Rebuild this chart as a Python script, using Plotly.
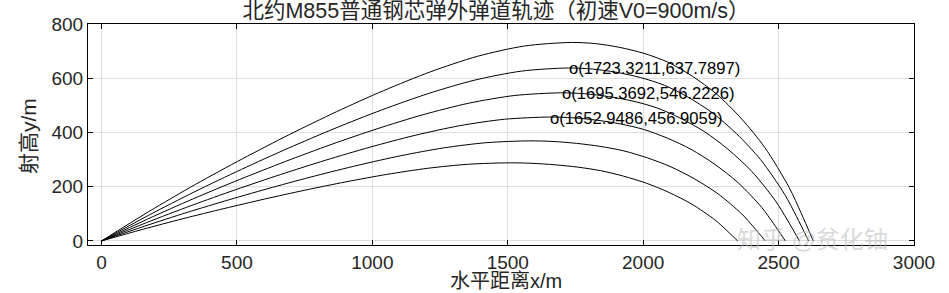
import plotly.graph_objects as go

# ---- data (horizontal distance x [m], height y [m]) ----
x1 = [0, 173.5, 347, 520.5, 694, 867.5, 1041, 1214.5, 1388, 1561.5, 1735,
      1824.3, 1913.6, 2002.9, 2092.2, 2181.5, 2270.8, 2360.1, 2449.4, 2538.7, 2583.4, 2628]
y1 = [0, 107.6, 208.6, 303.0, 392.4, 476.5, 554.1, 623.7, 680.8, 718.8, 732,
      727.6, 713.7, 691.7, 658.8, 607.6, 541.7, 453.8, 344.0, 197.6, 102.5, 0]

x2 = [0, 172.3, 344.7, 517.0, 689.3, 861.7, 1034.0, 1206.3, 1378.6, 1551.0, 1723.3,
      1812.1, 1900.8, 1989.6, 2078.4, 2167.2, 2255.9, 2344.7, 2433.5, 2522.2, 2566.6, 2611]
y2 = [0, 93.8, 181.8, 264.0, 341.9, 415.2, 482.8, 543.4, 593.2, 626.3, 637.8,
      634.0, 621.9, 602.7, 574.0, 529.4, 472.0, 395.4, 299.8, 172.2, 89.3, 0]

x3 = [0, 169.5, 339.1, 508.6, 678.2, 847.7, 1017.2, 1186.8, 1356.3, 1525.9, 1695.4,
      1783.6, 1871.7, 1959.9, 2048.0, 2136.2, 2224.4, 2312.5, 2400.7, 2488.8, 2532.9, 2577]
y3 = [0, 80.3, 155.7, 226.1, 292.8, 355.6, 413.5, 465.4, 508.0, 536.4, 546.2,
      542.9, 532.5, 516.2, 491.6, 453.3, 404.2, 338.6, 256.7, 147.5, 76.5, 0]

x4 = [0, 165.3, 330.6, 495.9, 661.2, 826.5, 991.7, 1157.0, 1322.3, 1487.6, 1652.9,
      1740.1, 1827.3, 1914.5, 2001.7, 2088.9, 2176.2, 2263.4, 2350.6, 2437.8, 2481.4, 2525]
y4 = [0, 67.2, 130.2, 189.2, 244.9, 297.4, 345.9, 389.3, 424.9, 448.7, 456.9,
      454.2, 445.5, 431.8, 411.2, 379.2, 338.1, 283.3, 214.7, 123.4, 64.0, 0]

x5 = [0, 158, 316, 474, 632, 790, 948, 1106, 1264, 1422, 1580,
      1667.1, 1754.2, 1841.3, 1928.4, 2015.5, 2102.6, 2189.7, 2276.8, 2363.9, 2407.5, 2451]
y5 = [0, 54.2, 105.2, 152.8, 197.8, 240.2, 279.3, 314.4, 343.2, 362.4, 369,
      366.8, 359.8, 348.7, 332.1, 306.3, 273.1, 228.8, 173.4, 99.6, 51.7, 0]

x6 = [0, 150.5, 301, 451.5, 602, 752.5, 903, 1053.5, 1204, 1354.5, 1505,
      1589.4, 1673.8, 1758.2, 1842.6, 1927, 2011.4, 2095.8, 2180.2, 2264.6, 2306.8, 2349]
y6 = [0, 42.3, 82.1, 119.2, 154.4, 187.5, 218.0, 245.4, 267.8, 282.8, 288,
      286.3, 280.8, 272.2, 259.2, 239.0, 213.1, 178.6, 135.4, 77.8, 40.3, 0]

# apex labels
apex_x = [1723.3211, 1695.3692, 1652.9486]
apex_y = [637.7897, 546.2226, 456.9059]

x_ticks = [0, 500, 1000, 1500, 2000, 2500, 3000]
y_ticks = [0, 200, 400, 600, 800]

title_text = "北约M855普通钢芯弹外弹道轨迹（初速V0=900m/s）"
xlabel = "水平距离x/m"
ylabel = "射高y/m"
watermark = "知乎 @贫化铀"

FONT = "Liberation Sans, Arial, Noto Sans CJK SC, sans-serif"

fig = go.Figure()
for xs, ys in [(x1, y1), (x2, y2), (x3, y3), (x4, y4), (x5, y5), (x6, y6)]:
    fig.add_trace(go.Scatter(x=xs, y=ys, mode="lines",
                             line=dict(color="black", width=1, shape="spline", smoothing=0.8),
                             showlegend=False, hoverinfo="skip"))

annotations = []
for ax_, ay_ in zip(apex_x, apex_y):
    annotations.append(dict(x=ax_, y=ay_, xref="x", yref="y",
                            text="o(%.4f,%.4f)" % (ax_, ay_),
                            showarrow=False, xanchor="left", yanchor="middle",
                            xshift=-1, yshift=-1, font=dict(family=FONT, size=16.6, color="black")))

annotations.append(dict(x=(506 - 88) / 826, y=(245 - 280.5) / 221, xref="paper", yref="paper",
                        text=xlabel, showarrow=False, xanchor="center", yanchor="middle",
                        font=dict(family=FONT, size=20, color="#262626")))
annotations.append(dict(x=(28 - 88) / 826, y=(245 - 136) / 221, xref="paper", yref="paper",
                        text=ylabel, showarrow=False, xanchor="center", yanchor="middle",
                        textangle=-90, font=dict(family=FONT, size=21, color="#262626")))
annotations.append(dict(x=(812 - 88) / 826, y=(245 - 239) / 221, xref="paper", yref="paper",
                        text=watermark, showarrow=False, xanchor="center", yanchor="middle",
                        font=dict(family=FONT, size=24, color="rgba(185,185,185,0.55)")))

axis_common = dict(showgrid=True, gridcolor="#dedede", gridwidth=1,
                   showline=True, linecolor="black", linewidth=1, mirror="allticks",
                   ticks="inside", ticklen=5, tickcolor="black", zeroline=False,
                   tickfont=dict(family=FONT, size=19, color="#262626"))

fig.update_layout(
    width=949, height=293,
    margin=dict(l=88, r=35, t=24, b=48),
    paper_bgcolor="white", plot_bgcolor="white",
    title=dict(text=title_text, x=496 / 949, xanchor="center",
               y=1 - 10 / 293, yref="container", yanchor="middle",
               font=dict(family=FONT, size=21.5, color="#262626")),
    xaxis=dict(range=[-50, 3000], tickvals=x_ticks, ticktext=[str(v) for v in x_ticks],
               **axis_common),
    yaxis=dict(range=[-15, 800], tickvals=y_ticks, ticktext=[str(v) for v in y_ticks],
               **axis_common),
    annotations=annotations,
)

fig.write_html("out.html")
